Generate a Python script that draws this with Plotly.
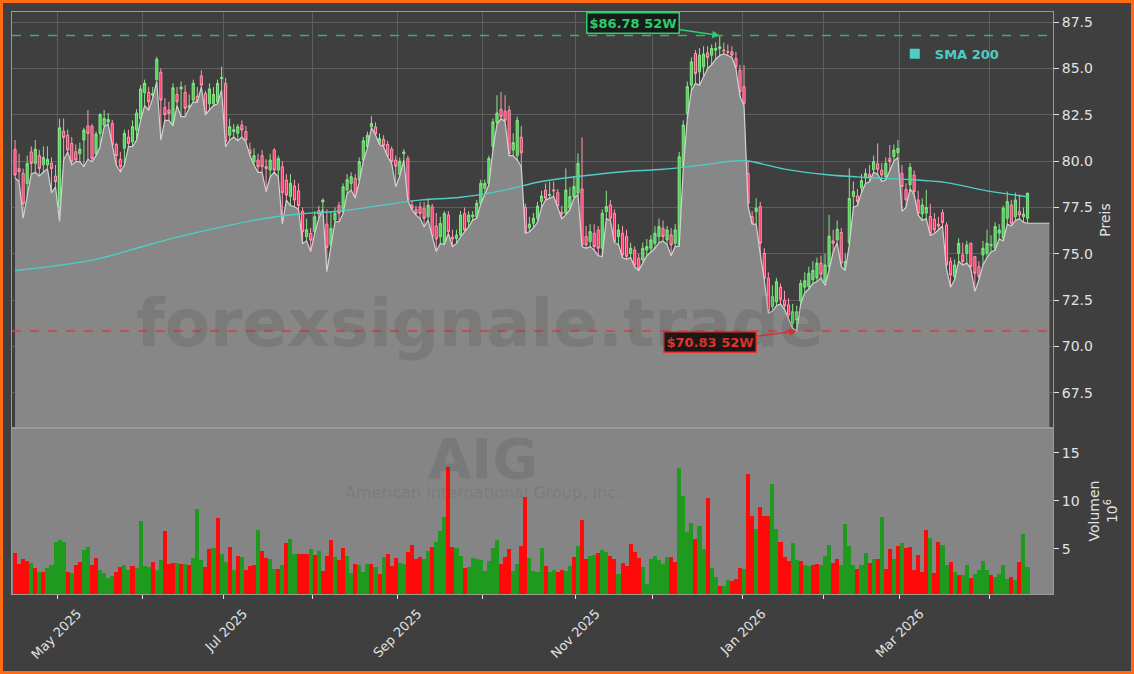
import pandas as pd
import plotly.graph_objects as go
from plotly.subplots import make_subplots

# ---------------- data ----------------
ticker = "AIG"
company = "American International Group, Inc."
watermark = "forexsignale.trade"

start_date = "2025-04-15"
end_date = "2026-04-15"
holidays = ["2025-04-18", "2025-05-26", "2025-06-19", "2025-07-04", "2025-09-01",
            "2025-11-27", "2025-12-25", "2026-01-01", "2026-01-19", "2026-02-16",
            "2026-04-03"]

opens = [
    80.63, 79.60, 79.34, 78.80, 80.50, 79.88, 80.30, 79.80, 79.80, 79.90,
    79.20, 77.50, 81.62, 81.40, 80.96, 80.51, 80.40, 81.14, 81.90, 81.89,
    80.40, 81.50, 81.95, 82.10, 82.04, 80.90, 80.10, 80.70, 81.30, 81.05,
    81.68, 82.30, 83.70, 83.70, 83.56, 84.40, 84.80, 82.90, 82.76, 81.95,
    83.60, 83.90, 83.71, 82.90, 83.30, 83.50, 84.60, 83.65, 83.10, 83.10,
    83.20, 84.45, 84.20, 81.40, 81.60, 81.50, 81.95, 81.60, 80.60, 79.97,
    80.06, 80.30, 79.70, 79.52, 80.60, 79.52, 79.70, 78.98, 78.10, 78.66,
    78.40, 77.30, 75.92, 76.10, 76.19, 77.33, 77.80, 76.60, 75.50, 76.82,
    77.60, 77.27, 78.44, 78.80, 79.07, 78.98, 80.06, 80.78, 81.85, 81.85,
    80.96, 81.17, 80.90, 80.65, 80.06, 79.28, 80.40, 80.15, 77.63, 77.40,
    77.54, 77.45, 77.00, 77.54, 76.50, 75.92, 75.56, 77.09, 75.90, 75.83,
    76.01, 77.18, 76.73, 77.00, 77.00, 77.72, 78.53, 78.80, 80.80, 82.10,
    82.80, 82.70, 82.75, 80.60, 80.30, 81.30, 77.50, 76.40, 76.65, 76.92,
    77.82, 78.44, 78.15, 78.45, 78.30, 77.25, 77.19, 77.46, 78.09, 78.27,
    78.50, 75.93, 75.66, 76.11, 76.29, 75.30, 77.28, 77.64, 77.19, 75.93,
    76.11, 75.93, 75.03, 75.21, 74.76, 74.67, 75.21, 75.30, 75.57, 75.93,
    76.38, 75.75, 76.02, 75.57, 75.48, 79.70, 82.58, 84.10, 85.81, 84.82,
    85.09, 85.85, 85.72, 85.99, 86.08, 86.00, 85.92, 85.90, 85.54, 84.91,
    84.02, 79.34, 77.01, 77.28, 77.55, 75.03, 73.68, 72.15, 72.40, 73.20,
    72.50, 72.24, 71.25, 71.43, 72.45, 73.20, 73.23, 73.60, 73.70, 74.50,
    73.50, 74.30, 75.70, 75.75, 76.15, 74.22, 75.60, 78.09, 78.12, 78.56,
    79.10, 79.30, 79.54, 79.86, 79.52, 79.16, 80.15, 80.24, 80.46, 79.34,
    78.48, 78.72, 79.25, 77.91, 77.15, 77.20, 77.01, 76.86, 76.60, 77.22,
    76.56, 74.58, 73.77, 75.03, 74.94, 75.03, 75.57, 74.85, 74.31, 74.94,
    75.03, 75.45, 75.30, 76.11, 75.84, 76.92, 77.64, 77.01, 77.28, 77.00,
    76.92]

highs = [
    81.14, 80.40, 79.60, 80.30, 80.80, 81.14, 80.60, 80.80, 80.80, 80.20,
    79.80, 82.30, 82.31, 81.70, 81.30, 80.90, 81.00, 81.80, 82.76, 82.00,
    81.60, 82.60, 82.76, 82.60, 82.22, 81.00, 80.50, 81.70, 81.70, 82.20,
    82.80, 84.10, 84.40, 84.00, 84.00, 85.63, 85.00, 83.40, 83.20, 84.20,
    84.00, 84.30, 84.10, 83.60, 84.40, 84.00, 84.90, 83.80, 84.20, 84.00,
    84.40, 85.10, 84.50, 82.30, 82.00, 82.00, 82.20, 81.90, 81.00, 80.70,
    80.40, 80.60, 80.10, 80.40, 80.70, 80.30, 80.00, 79.30, 79.30, 79.00,
    78.80, 77.50, 76.90, 76.40, 77.30, 77.60, 77.99, 77.40, 77.30, 77.50,
    77.80, 78.80, 79.30, 79.40, 79.30, 80.20, 81.30, 81.60, 82.43, 82.10,
    81.50, 81.40, 81.10, 80.80, 80.30, 80.20, 80.65, 80.30, 77.90, 77.60,
    77.80, 77.80, 78.00, 77.70, 77.20, 77.00, 77.30, 77.30, 76.30, 76.30,
    77.30, 77.50, 77.30, 77.30, 77.90, 79.00, 79.00, 80.30, 82.30, 83.56,
    83.74, 83.56, 83.00, 81.50, 82.40, 81.90, 77.70, 77.00, 77.20, 77.80,
    78.40, 78.80, 78.90, 78.90, 78.50, 77.60, 79.61, 78.60, 79.20, 80.42,
    81.28, 76.50, 76.60, 76.60, 76.50, 77.40, 78.40, 77.90, 77.40, 76.60,
    76.50, 76.30, 75.60, 75.40, 75.00, 75.60, 75.80, 76.00, 76.50, 76.90,
    76.80, 76.50, 76.40, 76.60, 80.50, 82.20, 84.30, 85.60, 86.00, 86.10,
    86.20, 86.20, 86.30, 86.40, 86.78, 86.40, 86.30, 86.20, 85.90, 85.20,
    85.18, 80.03, 77.30, 78.00, 77.80, 75.30, 74.00, 73.30, 73.70, 73.40,
    73.00, 72.60, 72.30, 72.20, 73.60, 74.00, 74.30, 74.60, 74.80, 74.90,
    75.00, 77.10, 76.30, 76.80, 76.40, 75.00, 79.61, 78.90, 78.50, 79.30,
    79.60, 79.80, 80.30, 80.96, 79.90, 80.20, 80.87, 80.90, 81.14, 79.80,
    78.80, 79.90, 79.50, 78.40, 78.00, 78.45, 77.70, 77.20, 77.00, 77.40,
    76.70, 74.80, 74.70, 75.84, 75.60, 75.70, 75.60, 74.85, 74.60, 75.70,
    76.30, 76.00, 76.70, 76.60, 77.60, 78.36, 77.90, 78.30, 78.20, 77.50,
    78.30]

lows = [
    79.10, 78.90, 76.92, 78.10, 79.30, 79.40, 79.20, 79.40, 79.60, 78.30,
    78.60, 76.74, 80.06, 80.50, 79.80, 79.97, 79.97, 79.70, 80.10, 79.97,
    80.30, 80.78, 81.86, 82.00, 80.80, 79.79, 79.43, 79.79, 80.78, 80.78,
    81.14, 82.20, 83.00, 82.76, 83.40, 84.30, 81.14, 82.20, 82.20, 81.90,
    83.00, 82.40, 82.40, 82.85, 83.20, 83.17, 84.00, 82.50, 82.76, 83.00,
    83.10, 83.83, 80.78, 81.14, 81.30, 81.10, 81.30, 81.05, 80.30, 79.79,
    79.40, 79.40, 78.35, 79.16, 79.40, 79.16, 76.60, 77.90, 77.60, 77.54,
    77.40, 75.56, 75.70, 75.12, 76.10, 76.90, 77.40, 74.04, 75.39, 76.73,
    76.73, 77.18, 78.26, 78.44, 78.00, 78.90, 80.00, 80.70, 81.80, 81.41,
    80.90, 80.78, 80.24, 79.88, 78.62, 79.20, 80.06, 77.85, 77.40, 77.09,
    76.91, 76.46, 76.82, 75.90, 75.12, 75.56, 75.50, 76.10, 75.39, 75.56,
    75.92, 76.19, 76.46, 76.82, 76.91, 77.70, 78.26, 78.71, 80.60, 82.00,
    82.30, 82.12, 80.30, 80.30, 80.06, 79.70, 76.10, 76.19, 76.40, 76.70,
    77.50, 77.90, 78.00, 78.10, 77.50, 76.90, 77.10, 77.40, 78.00, 78.20,
    75.39, 75.30, 75.40, 75.20, 74.90, 74.85, 76.90, 76.80, 75.60, 75.50,
    74.80, 74.70, 74.80, 74.30, 74.10, 74.50, 74.90, 75.10, 75.30, 75.60,
    75.70, 75.50, 74.90, 75.40, 75.40, 79.60, 82.30, 83.80, 84.20, 84.10,
    84.60, 85.00, 85.20, 85.50, 85.70, 85.80, 85.70, 85.60, 85.00, 83.50,
    83.00, 77.60, 76.60, 76.60, 75.00, 73.60, 71.80, 71.90, 72.20, 72.30,
    72.00, 71.50, 70.99, 70.83, 72.30, 72.90, 73.10, 73.40, 73.50, 73.70,
    73.30, 74.10, 75.10, 75.60, 74.30, 74.10, 75.50, 77.50, 77.60, 78.30,
    78.80, 78.90, 79.40, 79.30, 78.90, 79.00, 79.50, 80.00, 80.20, 77.30,
    77.50, 78.50, 78.20, 77.10, 76.80, 76.90, 76.00, 76.10, 76.30, 76.50,
    74.20, 73.20, 73.60, 74.60, 74.40, 74.50, 74.20, 72.97, 73.60, 74.40,
    74.80, 75.10, 75.20, 75.80, 75.70, 76.60, 76.50, 76.80, 76.90, 76.70,
    76.65]

closes = [
    79.25, 79.43, 77.69, 79.88, 79.88, 80.65, 79.60, 80.20, 80.10, 79.60,
    78.90, 81.80, 81.28, 80.60, 79.97, 80.06, 80.65, 81.68, 81.50, 80.15,
    81.46, 82.52, 82.30, 82.25, 80.87, 80.30, 79.70, 81.50, 80.96, 81.86,
    82.60, 83.90, 84.20, 83.20, 83.65, 85.50, 83.30, 82.52, 82.58, 83.96,
    83.20, 84.00, 82.85, 83.00, 84.20, 83.20, 84.10, 82.60, 83.90, 83.60,
    84.20, 84.52, 81.05, 81.86, 81.70, 81.86, 81.68, 81.14, 80.40, 80.30,
    79.70, 79.70, 79.60, 80.06, 79.52, 80.15, 78.30, 78.17, 78.80, 77.90,
    77.60, 76.19, 76.30, 75.74, 77.00, 77.15, 77.90, 75.35, 76.37, 77.18,
    77.18, 78.62, 79.00, 79.16, 78.08, 79.97, 81.10, 81.40, 82.03, 81.46,
    81.23, 80.83, 80.27, 79.97, 79.73, 80.00, 80.50, 77.90, 77.45, 77.18,
    77.18, 76.91, 77.63, 75.92, 75.80, 76.64, 77.18, 76.19, 75.80, 76.01,
    77.09, 76.28, 77.09, 77.09, 77.72, 78.80, 78.80, 80.15, 82.12, 82.60,
    82.40, 82.20, 80.40, 81.00, 82.20, 80.45, 76.19, 76.60, 76.92, 77.58,
    78.12, 78.00, 78.20, 78.40, 77.58, 77.15, 78.44, 78.09, 78.63, 79.88,
    75.48, 75.48, 76.20, 75.39, 75.30, 77.19, 77.55, 76.92, 75.66, 76.29,
    74.94, 74.85, 75.30, 74.40, 74.22, 75.30, 75.39, 75.75, 76.11, 76.47,
    75.93, 76.29, 75.48, 76.29, 80.24, 81.95, 84.02, 85.36, 84.73, 85.72,
    85.78, 85.60, 86.08, 86.08, 86.17, 85.95, 85.88, 85.72, 85.09, 83.75,
    83.12, 77.73, 76.65, 77.46, 75.57, 73.68, 71.89, 72.69, 73.50, 72.55,
    72.20, 71.70, 71.88, 71.88, 73.41, 73.55, 73.95, 74.10, 74.50, 73.90,
    74.40, 75.95, 75.57, 76.33, 74.50, 74.58, 77.99, 78.36, 77.82, 78.95,
    79.34, 79.14, 79.97, 79.56, 79.25, 79.88, 79.97, 80.60, 80.69, 78.63,
    77.91, 79.67, 78.36, 77.19, 77.64, 77.50, 76.11, 76.29, 76.50, 76.68,
    74.40, 73.86, 74.40, 75.57, 74.58, 75.48, 74.31, 73.95, 73.77, 75.30,
    75.57, 75.50, 76.47, 76.29, 77.46, 77.82, 76.65, 77.91, 77.10, 77.15,
    78.27]

# volume in millions of shares
volumes = [
    4.60, 3.44, 3.96, 3.70, 3.50, 3.00, 2.64, 2.64, 3.00, 3.30,
    5.76, 5.90, 5.70, 2.57, 2.50, 3.30, 3.60, 4.90, 5.20, 3.30,
    4.10, 2.80, 2.50, 2.00, 2.20, 2.60, 3.10, 3.30, 2.80, 3.20,
    3.00, 7.90, 3.20, 3.10, 3.65, 2.80, 3.85, 6.90, 3.40, 3.50,
    3.55, 3.44, 3.40, 3.30, 4.06, 9.17, 3.85, 3.10, 4.99, 5.10,
    8.25, 4.50, 3.65, 5.20, 2.80, 4.27, 4.20, 2.80, 3.20, 3.30,
    6.98, 4.80, 4.06, 3.96, 2.90, 2.90, 3.30, 5.60, 6.04, 4.50,
    4.50, 4.50, 4.50, 5.00, 4.40, 4.80, 2.70, 4.27, 5.90, 4.20,
    3.85, 5.10, 4.27, 2.50, 3.44, 3.30, 2.60, 3.44, 3.44, 3.10,
    2.40, 4.20, 4.50, 3.20, 4.06,
    3.50, 3.44, 4.70, 5.40, 4.00, 4.20, 3.96, 4.80, 5.20, 5.70,
    6.90, 8.30, 13.50, 5.20, 5.10, 4.27, 3.00, 3.10, 4.06, 3.96,
    3.85, 2.70, 3.75, 5.10, 5.90, 3.44, 4.20, 5.00, 2.70, 3.44,
    5.30, 10.40, 4.06, 2.70, 2.60, 5.10, 3.20, 2.60, 2.80, 2.60,
    2.80, 2.70, 3.20, 4.20, 5.30, 8.00, 3.96, 4.27, 4.40, 4.60,
    4.90, 4.70, 4.27, 3.96, 2.40, 3.55, 3.20, 5.50, 4.70, 4.06,
    3.10, 1.35, 3.96, 4.27, 3.85, 3.44, 4.20, 4.20, 3.65, 13.40,
    10.50, 6.78, 7.70, 6.04, 7.40, 5.00, 10.30, 3.00, 2.07, 1.15,
    1.15, 1.77, 1.67, 1.87, 3.00, 2.90, 12.80, 8.40, 7.10, 9.40,
    8.40, 8.40, 11.80, 7.10, 5.70, 4.20, 3.75, 5.60, 3.85,
    3.75, 3.30, 3.20, 3.30, 3.40, 3.30, 4.30, 5.40, 3.50, 3.90,
    3.30, 7.60, 5.30, 3.30, 2.90, 3.30, 4.60, 3.50, 3.90, 4.00,
    8.30, 2.90, 5.00, 3.90, 5.30, 5.60, 5.10, 5.20, 2.80, 4.40,
    2.60, 7.00, 6.10, 2.50, 5.70, 5.40, 3.30, 3.60, 2.60, 2.30,
    2.30, 3.30, 2.00, 2.40, 2.80, 3.70, 2.80, 2.30, 2.10, 2.40,
    3.30, 1.90, 2.10, 1.80, 3.60, 6.56, 3.10]

# 1 = green (up) volume bar, 0 = red (down) volume bar
volume_up = [
    0, 0, 0, 0, 1, 0, 1, 0, 1, 1,
    1, 1, 1, 0, 1, 0, 0, 1, 1, 0,
    0, 1, 1, 1, 1, 0, 0, 1, 1, 0,
    1, 1, 1, 1, 0, 1, 1, 0, 0, 0,
    1, 0, 1, 0, 1, 1, 1, 0, 0, 1,
    0, 1, 1, 0, 1, 0, 1, 0, 0, 0,
    1, 0, 0, 1, 1, 0, 1, 0, 1, 1,
    0, 0, 0, 1, 0, 1, 0, 0, 0, 1,
    0, 0, 1, 1, 0, 1, 1, 1, 0, 1,
    0, 1, 0, 0, 0,
    1, 1, 0, 0, 0, 0, 1, 1, 0, 1,
    1, 1, 0, 0, 1, 1, 0, 1, 1, 1,
    1, 1, 1, 1, 1, 0, 0, 0, 1, 1,
    0, 0, 1, 1, 1, 1, 0, 1, 1, 0,
    0, 1, 1, 0, 1, 0, 0, 1, 1, 0,
    1, 1, 0, 0, 1, 0, 0, 0, 0, 0,
    1, 1, 1, 1, 1, 1, 1, 0, 0, 1,
    1, 1, 1, 0, 1, 1, 0, 1, 1, 0,
    1, 1, 0, 0, 0, 1, 0, 0, 1, 0,
    0, 0, 1, 1, 0, 0, 0, 1, 1,
    0, 1, 1, 0, 0, 1, 1, 1, 0, 0,
    1, 1, 1, 1, 0, 1, 1, 0, 1, 0,
    1, 0, 0, 1, 0, 1, 0, 0, 0, 0,
    0, 0, 1, 0, 0, 1, 1, 0, 1, 0,
    1, 1, 0, 1, 1, 1, 1, 0, 1, 1,
    1, 1, 0, 1, 0, 1, 1]

# SMA 200, one value every 10 sessions
sma_step = 10
sma200 = [74.10, 74.35, 74.70, 75.30, 75.90, 76.40, 76.85, 77.15, 77.30, 77.60,
          77.90, 78.05, 78.40, 78.90, 79.20, 79.43, 79.56, 79.80, 80.02, 79.57,
          79.28, 79.12, 79.02, 78.84, 78.40, 78.08]

month_labels = ["May 2025", "", "Jul 2025", "", "Sep 2025", "", "Nov 2025", "",
                "Jan 2026", "", "Mar 2026", ""]
price_ticks = [67.5, 70.0, 72.5, 75.0, 77.5, 80.0, 82.5, 85.0, 87.5]
volume_ticks = [5, 10, 15]

# ---------------- styling ----------------
FONT = "DejaVu Sans"
PAPER = "#3f3f3f"
GRID = "#5e5e5e"
AXLINE = "#9a9a9a"
TXT = "#e2e2e2"
TEAL = "#4ecdc4"
UP_VOL = "#1e9a1e"
DN_VOL = "#ff0a0a"
HI_COL = "#2ecc71"
LO_COL = "#e8352e"

days = pd.bdate_range(start_date, end_date, freq="C", holidays=holidays)
assert len(days) == len(closes) == len(opens) == len(highs) == len(lows) == len(volumes) == len(volume_up)
x = days + pd.Timedelta(hours=12)

fill_until = pd.Timestamp("2026-04-22 22:00")
x_range = ["2025-04-14 18:00", "2026-04-23 19:00"]

first_in_month = days.to_series().groupby(days.to_period("M")).first()
tick_days = [d for d in first_in_month if d.day <= 5]

fig = make_subplots(rows=2, cols=1, shared_xaxes=True, vertical_spacing=0,
                    row_heights=[416 / 582, 166 / 582])

# area below lows
fig.add_trace(go.Scatter(x=list(x) + [fill_until], y=lows + [lows[-1]],
                         mode="lines", fill="tozeroy", fillcolor="#878787",
                         line=dict(color="#d2d2d2", width=1.2),
                         hoverinfo="skip", showlegend=False), row=1, col=1)

# SMA 200
fig.add_trace(go.Scatter(x=x[::sma_step], y=sma200, mode="lines",
                         line=dict(color=TEAL, width=1.4, shape="spline"),
                         showlegend=False, name="SMA 200"), row=1, col=1)
fig.add_trace(go.Scatter(x=[None], y=[None], mode="markers",
                         marker=dict(symbol="square", size=10, color=TEAL),
                         name="<b>SMA 200</b>", showlegend=True), row=1, col=1)

# candles
fig.add_trace(go.Candlestick(x=x, open=opens, high=highs, low=lows, close=closes,
                             increasing=dict(line=dict(color="#86e886", width=1), fillcolor="#46d255"),
                             decreasing=dict(line=dict(color="#ff9ab3", width=1), fillcolor="#ff2d63"),
                             whiskerwidth=0, showlegend=False, name=ticker), row=1, col=1)

# volume
fig.add_trace(go.Bar(x=x, y=volumes,
                     marker=dict(color=[UP_VOL if u else DN_VOL for u in volume_up], line=dict(width=0)),
                     showlegend=False, name="Volumen"), row=2, col=1)

# 52-week lines and labels
hi_i = highs.index(max(highs))
lo_i = lows.index(min(lows))
fig.add_hline(y=highs[hi_i], line=dict(color="#3fae6a", width=1.5, dash="dash"), row=1, col=1)
fig.add_hline(y=lows[lo_i], line=dict(color="#cc4444", width=1.5, dash="dash"), row=1, col=1)
fig.add_annotation(x=x[hi_i], y=highs[hi_i], xref="x", yref="y",
                   text=f"<b>${highs[hi_i]:.2f} 52W</b>", showarrow=True,
                   arrowhead=2, arrowsize=1, arrowwidth=1.5, arrowcolor=HI_COL,
                   ax=-87, ay=-13, font=dict(family=FONT, size=13, color=HI_COL),
                   bgcolor="#161d18", bordercolor=HI_COL, borderwidth=1.5, borderpad=2)
fig.add_annotation(x=x[lo_i], y=lows[lo_i], xref="x", yref="y",
                   text=f"<b>${lows[lo_i]:.2f} 52W</b>", showarrow=True,
                   arrowhead=2, arrowsize=1, arrowwidth=1.5, arrowcolor=LO_COL,
                   ax=-87, ay=11, font=dict(family=FONT, size=13, color=LO_COL),
                   bgcolor="#1d1616", bordercolor=LO_COL, borderwidth=1.5, borderpad=2)

# watermarks
fig.add_annotation(x=0.4496, y=0.464, xref="paper", yref="paper", text=f"<b>{watermark}</b>",
                   xanchor="center", yanchor="middle", showarrow=False,
                   font=dict(family=FONT, size=66, color="rgba(40,40,40,0.13)"))
fig.add_annotation(x=0.4525, y=0.232, xref="paper", yref="paper", text=f"<b>{ticker}</b>",
                   xanchor="center", yanchor="middle", showarrow=False,
                   font=dict(family=FONT, size=56, color="rgba(40,40,40,0.12)"))
fig.add_annotation(x=0.4525, y=0.174, xref="paper", yref="paper", text=company,
                   xanchor="center", yanchor="middle", showarrow=False,
                   font=dict(family=FONT, size=16, color="rgba(40,40,40,0.12)"))

# volume panel background
fig.add_shape(type="rect", xref="x2 domain", yref="y2 domain", x0=0, x1=1, y0=0, y1=1,
              fillcolor="#858585", line=dict(width=0), layer="below")

# outer orange frame
W, H, L, T, R, B = 1134, 674, 12, 12, 81, 80
pw, ph = W - L - R, H - T - B
fig.add_shape(type="rect", xref="paper", yref="paper",
              x0=(-L + 1.5) / pw, x1=1 + (R - 1.5) / pw,
              y0=-(B - 1.5) / ph, y1=1 + (T - 1.5) / ph,
              line=dict(color="#ff6a13", width=3), fillcolor="rgba(0,0,0,0)", layer="above")

rb = [dict(bounds=["sat", "mon"]), dict(values=holidays)]
fig.update_xaxes(rangebreaks=rb, range=x_range, showline=True, mirror=True, linecolor=AXLINE,
                 linewidth=1, zeroline=False, automargin=False, rangeslider=dict(visible=False))
fig.update_xaxes(row=1, col=1, showgrid=True, gridcolor=GRID, gridwidth=1,
                 tickvals=tick_days, showticklabels=False, ticks="")
fig.update_xaxes(row=2, col=1, showgrid=False, tickvals=tick_days, ticktext=month_labels,
                 ticks="outside", ticklen=4, tickcolor=TXT, tickangle=-45,
                 ticklabelshift=20, ticklabelstandoff=2,
                 tickfont=dict(family=FONT, size=13, color=TXT))

fig.update_yaxes(row=1, col=1, side="right", range=[65.6, 88.05], tickvals=price_ticks,
                 ticktext=[f"{v:.1f}" for v in price_ticks], ticks="outside", ticklen=5,
                 tickcolor=TXT, tickfont=dict(family=FONT, size=14, color=TXT),
                 showgrid=True, gridcolor=GRID, zeroline=False, showline=True, mirror=True,
                 linecolor=AXLINE, automargin=False,
                 title=dict(text="Preis", font=dict(family=FONT, size=14, color=TXT), standoff=8))
fig.update_yaxes(row=2, col=1, side="right", range=[0.3, 17.6], tickvals=volume_ticks,
                 ticks="outside", ticklen=5, tickcolor=TXT,
                 tickfont=dict(family=FONT, size=14, color=TXT),
                 showgrid=False, zeroline=False, showline=True, mirror=True, linecolor=AXLINE,
                 automargin=False,
                 title=dict(text="Volumen<br>10<sup>6</sup>", font=dict(family=FONT, size=14, color=TXT),
                            standoff=10))

fig.update_layout(width=W, height=H, margin=dict(l=L, r=R, t=T, b=B, autoexpand=False),
                  paper_bgcolor=PAPER, plot_bgcolor=PAPER, bargap=0, boxgap=0.25,
                  font=dict(family=FONT, color=TXT),
                  showlegend=True,
                  legend=dict(x=0.848, y=0.928, xanchor="left", yanchor="middle",
                              bgcolor="rgba(0,0,0,0)", font=dict(family=FONT, size=13, color=TEAL),
                              itemwidth=30),
                  hovermode=False)

fig.write_html("out.html", config={"displayModeBar": False},
               post_script="document.body.style.margin='0';document.body.style.overflow='hidden';")
